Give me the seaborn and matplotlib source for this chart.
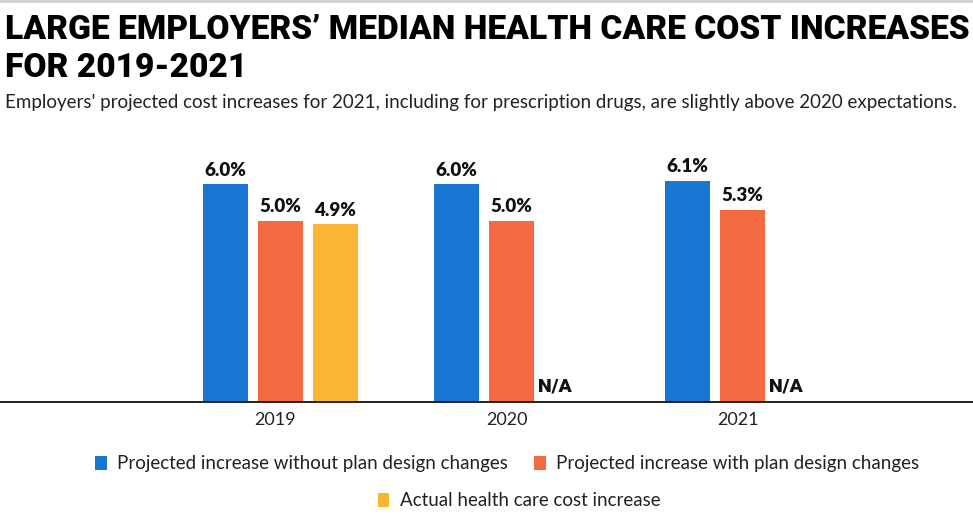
import numpy as np
import pandas as pd
import matplotlib
matplotlib.use("Agg")
import matplotlib.pyplot as plt
import seaborn as sns
from matplotlib.lines import Line2D
from matplotlib import transforms

# ---- data ----
years = ["2019", "2020", "2021"]
series = [
    "Projected increase without plan design changes",
    "Projected increase with plan design changes",
    "Actual health care cost increase",
]
without_changes = [6.0, 6.0, 6.1]
with_changes = [5.0, 5.0, 5.3]
actual = [4.9, np.nan, np.nan]
colors = ["#1976D2", "#F26B43", "#FBB433"]

title_lines = ["LARGE EMPLOYERS\u2019 MEDIAN HEALTH CARE COST INCREASES", "FOR 2019-2021"]
subtitle = ("Employers' projected cost increases for 2021, including for prescription drugs, "
            "are slightly above 2020 expectations.")

rows = []
for name, vals in zip(series, [without_changes, with_changes, actual]):
    for y, v in zip(years, vals):
        rows.append({"year": y, "series": name, "value": v})
df = pd.DataFrame(rows)

sns.set_theme(style="white")
plt.rcParams["font.family"] = ["Lato", "DejaVu Sans"]

W, H = 973, 520
fig = plt.figure(figsize=(W / 100, H / 100), dpi=100)
ax = fig.add_axes([0, 1 - 402 / H, 1, (402 - 150) / H])

bar_w = 0.714
sns.barplot(data=df, x="year", y="value", hue="series", order=years, hue_order=series,
            palette=colors, width=bar_w, gap=0.18, ax=ax, errorbar=None,
            saturation=1, linewidth=0)

px_per_pct = 36.3
ax.set_ylim(0, (402 - 150) / px_per_pct)
ax.set_xlim(-280.5 / 231, (973 - 280.5) / 231)

for c in ax.containers:
    labels = ["" if np.isnan(v) else f"{v:.1f}%" for v in c.datavalues]
    ax.bar_label(c, labels=labels, padding=4, fontsize=13.5, fontweight="heavy", color="#111111")

# N/A labels at missing bar slots
slot = bar_w / len(series)
for si, vals in enumerate([without_changes, with_changes, actual]):
    for yi, v in enumerate(vals):
        if np.isnan(v):
            xpos = yi + (si - (len(series) - 1) / 2) * slot
            tr = transforms.offset_copy(ax.transData, fig=fig, x=-8, y=5, units="points")
            ax.text(xpos, 0, "N/A", transform=tr, ha="center", va="bottom",
                    fontsize=14, fontweight="black", family=["Roboto", "DejaVu Sans"],
                    color="#111111")

for s in ["top", "right", "left"]:
    ax.spines[s].set_visible(False)
ax.spines["bottom"].set_color("#222222")
ax.spines["bottom"].set_linewidth(1.4)
ax.set_yticks([])
ax.set_xlabel("")
ax.set_ylabel("")
ax.tick_params(axis="x", length=0, pad=7, labelsize=13, labelcolor="#222222")
for lbl in ax.get_xticklabels():
    lbl.set_transform(lbl.get_transform() + transforms.ScaledTranslation(-5 / 100, 0, fig.dpi_scale_trans))

handles, labels = ax.get_legend_handles_labels()
if ax.legend_ is not None:
    ax.legend_.remove()

leg_kw = dict(frameon=False, fontsize=13.5, handlelength=0.62, handleheight=0.75,
              handletextpad=0.55, columnspacing=1.4, labelcolor="#222222")
leg1 = fig.legend(handles[:2], labels[:2], ncol=2, loc="center",
                  bbox_to_anchor=(507 / W, 1 - 464 / H), **leg_kw)
leg2 = fig.legend(handles[2:], labels[2:], ncol=1, loc="center",
                  bbox_to_anchor=(519 / W, 1 - 501 / H), **leg_kw)

# titles
t1 = fig.text(5 / W, 1 - 39 / H, title_lines[0], ha="left", va="baseline", fontsize=24,
              fontweight="black", family=["Roboto", "DejaVu Sans"], color="#000000")
t2 = fig.text(5 / W, 1 - 77 / H, title_lines[1], ha="left", va="baseline", fontsize=24,
              fontweight="black", family=["Roboto", "DejaVu Sans"], color="#000000")
st = fig.text(5 / W, 1 - 108 / H, subtitle, ha="left", va="baseline", fontsize=12,
              color="#222222")

renderer = fig.canvas.get_renderer()
def fit(t, target):
    w = t.get_window_extent(renderer).width
    t.set_fontsize(t.get_fontsize() * target / w)
fit(t1, 963)
t2.set_fontsize(t1.get_fontsize())
fit(st, 948)

fig.add_artist(Line2D([0, 1], [1 - 1.2 / H, 1 - 1.2 / H], transform=fig.transFigure,
                      color="#d0d0d0", linewidth=2))

fig.savefig("out.png", dpi=100)
